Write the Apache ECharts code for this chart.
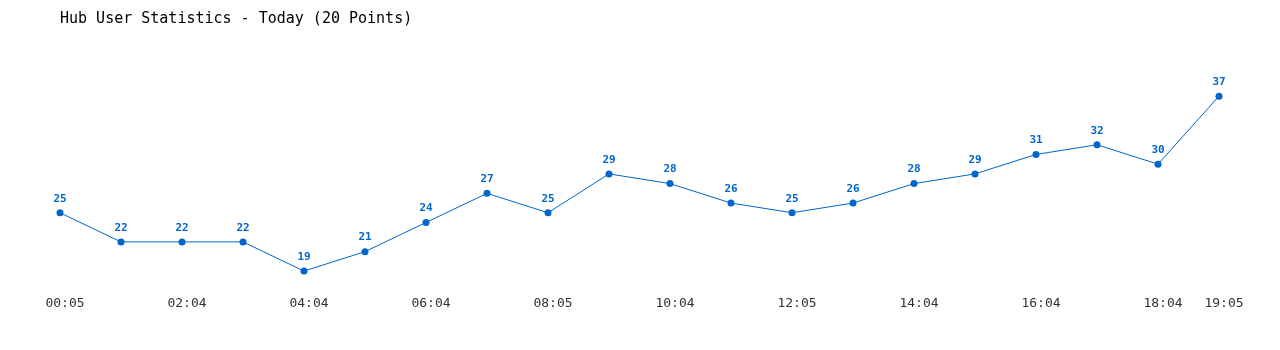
<!DOCTYPE html>
<html><head><meta charset="utf-8">
<script src="https://cdn.jsdelivr.net/npm/echarts@6/dist/echarts.min.js"></script>
<style>html,body{margin:0;padding:0;background:#fff}#c{width:1280px;height:350px}</style>
</head><body><div id="c"></div>
<script>
const categories = ["00:05","01:04","02:04","03:04","04:04","05:04","06:04","07:04","08:05","09:04","10:04","11:04","12:05","13:04","14:04","15:04","16:04","17:04","18:04","19:05"];
const users = [25,22,22,22,19,21,24,27,25,29,28,26,25,26,28,29,31,32,30,37];
const titleText = "Hub User Statistics - Today (20 Points)";
const chart = echarts.init(document.getElementById('c'));
const last = categories.length - 1;
chart.setOption({
  animation:false,
  backgroundColor:'#fff',
  title:{text:titleText,left:55,top:7,textStyle:{fontFamily:'DejaVu Sans Mono',fontSize:15,fontWeight:'normal',color:'#000'}},
  grid:{left:60,right:61,top:67,bottom:59.5},
  xAxis:{type:'category',data:categories,boundaryGap:false,
    axisLine:{show:false},axisTick:{show:false},splitLine:{show:false},
    axisLabel:{interval:(i)=> i%2===0 || i===last,margin:7,padding:[0,0,0,10],
      fontFamily:'DejaVu Sans Mono',fontSize:13,color:'#333'}},
  yAxis:{type:'value',min:17,max:40,show:false},
  series:[{type:'line',data:users,symbol:'circle',symbolSize:7,
    lineStyle:{color:'#0066cc',width:1},itemStyle:{color:'#0066cc'},
    label:{show:true,position:'top',distance:5,color:'#0066cc',fontFamily:'DejaVu Sans Mono',fontWeight:'bold',fontSize:11}}]
});
</script></body></html>
